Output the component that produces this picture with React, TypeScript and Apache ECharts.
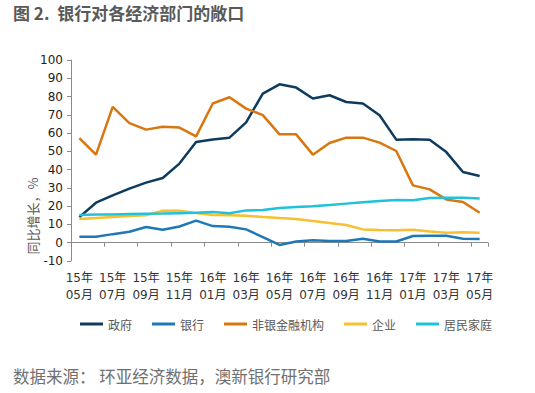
import React, { useEffect, useRef } from "react";
import * as echarts from "echarts";

const months = [
  "15年\n05月", "15年\n06月", "15年\n07月", "15年\n08月", "15年\n09月", "15年\n10月", "15年\n11月", "15年\n12月",
  "16年\n01月", "16年\n02月", "16年\n03月", "16年\n04月", "16年\n05月", "16年\n06月", "16年\n07月", "16年\n08月",
  "16年\n09月", "16年\n10月", "16年\n11月", "16年\n12月", "17年\n01月", "17年\n02月", "17年\n03月", "17年\n04月", "17年\n05月",
];

const government = [14.0, 21.9, 25.9, 29.6, 32.9, 35.4, 43.3, 55.1, 56.5, 57.5, 65.9, 81.6, 86.7, 84.9, 78.9, 80.7, 77.0, 76.2, 69.8, 56.4, 56.6, 56.3, 49.6, 38.7, 36.5];
const banks = [3.3, 3.3, 4.7, 6.0, 8.6, 7.1, 8.9, 12.1, 9.1, 8.8, 7.3, 3.1, -1.2, 0.7, 1.3, 0.9, 0.9, 2.2, 0.7, 0.7, 3.7, 3.8, 3.8, 2.2, 2.0];
const nonBankFin = [57.3, 48.2, 74.3, 65.5, 61.9, 63.5, 63.0, 58.2, 76.2, 79.6, 73.4, 69.8, 59.3, 59.3, 48.2, 54.6, 57.5, 57.5, 54.8, 50.2, 31.4, 29.2, 23.7, 22.3, 16.4];
const corporates = [13.0, 13.5, 14.1, 14.6, 15.0, 17.5, 17.5, 16.3, 15.2, 15.0, 14.8, 14.1, 13.5, 13.0, 11.9, 10.8, 9.7, 7.3, 6.9, 6.8, 7.1, 6.2, 5.5, 5.7, 5.5];
const households = [15.2, 15.4, 15.5, 15.7, 15.9, 16.0, 16.2, 16.4, 16.8, 16.1, 17.7, 17.9, 19.0, 19.5, 19.9, 20.6, 21.4, 22.2, 22.8, 23.4, 23.2, 24.5, 24.6, 24.6, 24.2];

const seriesNames = ["政府", "银行", "非银金融机构", "企业", "居民家庭"];
const seriesColors = ["#0f3b5f", "#1f78b6", "#d8770f", "#f8c030", "#1fc2da"];

const FONT = "'DejaVu Sans', 'Noto Sans CJK SC', sans-serif";
const CJK = "'Noto Sans CJK SC', sans-serif";

export default function App() {
  const ref = useRef<HTMLDivElement>(null);
  useEffect(() => {
    if (!ref.current) return;
    const chart = echarts.init(ref.current, undefined, { renderer: "svg" });
    const dataSets = [government, banks, nonBankFin, corporates, households];
    chart.setOption({
      animation: false,
      backgroundColor: "#ffffff",
      grid: { left: 71, right: 47, top: 60, bottom: 132 },
      legend: {
        left: 75,
        top: 313,
        icon: "rect",
        itemWidth: 23,
        itemHeight: 3,
        itemGap: 20,
        textStyle: { fontSize: 12, color: "#595959", fontFamily: CJK },
        data: seriesNames,
      },
      xAxis: [
        {
          type: "category",
          data: months,
          position: "bottom",
          boundaryGap: true,
          axisLine: { onZero: true, lineStyle: { color: "#8c8c8c", width: 1 } },
          axisTick: { show: true, interval: 1, length: 4, lineStyle: { color: "#8c8c8c" } },
          axisLabel: { show: false },
          splitLine: { show: false },
        },
        {
          type: "category",
          data: months,
          position: "bottom",
          boundaryGap: true,
          axisLine: { show: false, onZero: false },
          axisTick: { show: false },
          axisLabel: {
            interval: 1,
            margin: 8,
            fontSize: 12,
            lineHeight: 17,
            color: "#333333",
            fontFamily: FONT,
          },
          splitLine: { show: false },
        },
      ],
      yAxis: {
        type: "value",
        min: -10,
        max: 100,
        interval: 10,
        axisLine: { show: true, lineStyle: { color: "#8c8c8c", width: 1 } },
        axisTick: { show: true, length: 4, lineStyle: { color: "#8c8c8c" } },
        axisLabel: { margin: 8, fontSize: 12, color: "#222222", fontFamily: FONT },
        splitLine: { show: false },
      },
      graphic: [
        {
          type: "text",
          left: 13,
          top: 4,
          style: {
            text: "图 2.  银行对各经济部门的敞口",
            font: `bold 17px ${CJK}`,
            fill: "#595959",
          },
        },
        {
          type: "text",
          x: 32,
          y: 216,
          rotation: Math.PI / 2,
          style: {
            text: "同比增长，%",
            font: `13px ${CJK}`,
            fill: "#595959",
            align: "center",
            verticalAlign: "middle",
          },
        },
        {
          type: "text",
          left: 13,
          top: 368,
          style: {
            text: "数据来源： 环亚经济数据，澳新银行研究部",
            font: `16.5px ${CJK}`,
            fill: "#707070",
          },
        },
      ],
      series: seriesNames.map((name, i) => ({
        name,
        type: "line",
        xAxisIndex: 0,
        data: dataSets[i],
        showSymbol: false,
        symbol: "none",
        color: seriesColors[i],
        lineStyle: { width: 2.5, color: seriesColors[i] },
        itemStyle: { color: seriesColors[i] },
      })),
    });
    return () => chart.dispose();
  }, []);
  return (
    <div
      ref={ref}
      style={{ position: "fixed", left: 0, top: 0, width: 535, height: 393, background: "#fff" }}
    />
  );
}
